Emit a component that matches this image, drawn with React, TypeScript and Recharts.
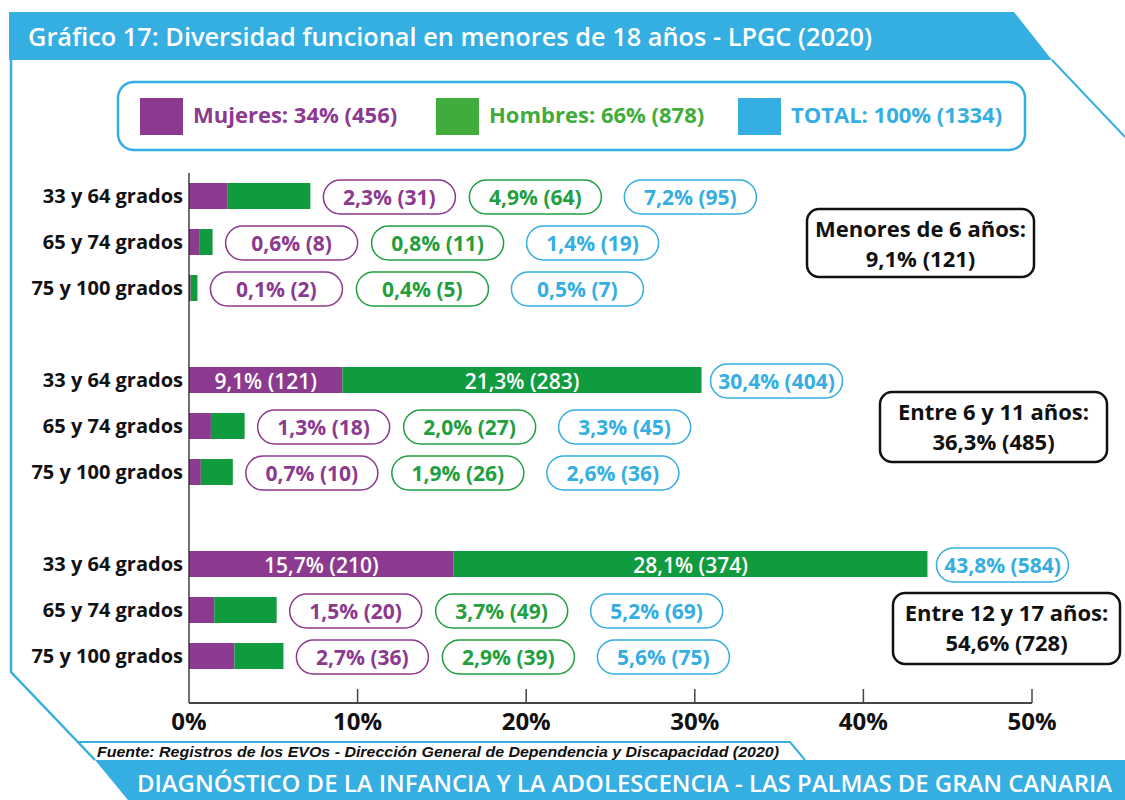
import React from "react";
import { BarChart, Bar, XAxis, YAxis, LabelList } from "recharts";

const BLUE = "#35aee2";
const PURPLE = "#8b3a8f";
const GREEN_BAR = "#119b3f";
const GREEN_PILL = "#22a040";
const GREEN_LEGEND = "#41ac3b";
const INK = "#111111";
const FONT = "'Open Sans', sans-serif";

const rowLabels = ["33 y 64 grados", "65 y 74 grados", "75 y 100 grados"];
const groupTitles = ["Menores de 6 años:", "Entre 6 y 11 años:", "Entre 12 y 17 años:"];
const groupTotals = ["9,1% (121)", "36,3% (485)", "54,6% (728)"];

const mujeresPct = [2.3, 0.6, 0.1, 9.1, 1.3, 0.7, 15.7, 1.5, 2.7];
const mujeresN = [31, 8, 2, 121, 18, 10, 210, 20, 36];
const hombresPct = [4.9, 0.8, 0.4, 21.3, 2.0, 1.9, 28.1, 3.7, 2.9];
const hombresN = [64, 11, 5, 283, 27, 26, 374, 49, 39];
const totalPct = [7.2, 1.4, 0.5, 30.4, 3.3, 2.6, 43.8, 5.2, 5.6];
const totalN = [95, 19, 7, 404, 45, 36, 584, 69, 75];

const xTicks = [0, 10, 20, 30, 40, 50];

const legendLabels = ["Mujeres: 34% (456)", "Hombres: 66% (878)", "TOTAL: 100% (1334)"];
const legendColors = [PURPLE, GREEN_LEGEND, BLUE];

const fmt = (p: number, n: number) => `${p.toFixed(1).replace(".", ",")}% (${n})`;

type Row = {
  id: string;
  label: string;
  m?: number;
  h?: number;
  mText?: string;
  hText?: string;
  tText?: string;
  inside?: boolean;
};

const data: Row[] = [];
for (let g = 0; g < 3; g++) {
  for (let r = 0; r < 3; r++) {
    const i = g * 3 + r;
    data.push({
      id: `g${g}r${r}`,
      label: rowLabels[r],
      m: mujeresPct[i],
      h: hombresPct[i],
      mText: fmt(mujeresPct[i], mujeresN[i]),
      hText: fmt(hombresPct[i], hombresN[i]),
      tText: fmt(totalPct[i], totalN[i]),
      inside: mujeresPct[i] > 8,
    });
  }
  if (g < 2) data.push({ id: `sp${g}`, label: "" });
}
const byId: Record<string, Row> = Object.fromEntries(data.map((d) => [d.id, d]));

const PILL_W = 132;
const PILL_H = 34;

function Pill({ x, cy, text, color }: { x: number; cy: number; text: string; color: string }) {
  return (
    <g>
      <rect x={x} y={cy - PILL_H / 2} width={PILL_W} height={PILL_H} rx={17} fill="#fff" stroke={color} strokeWidth={1.5} />
      <text x={x + PILL_W / 2} y={cy} textAnchor="middle" dominantBaseline="central" fill={color}
        fontFamily={FONT} fontWeight={700} fontSize={21}>
        {text}
      </text>
    </g>
  );
}

function MujeresInside(props: any) {
  const { x, y, width, height, value } = props;
  const row = byId[value];
  if (!row || !row.inside) return null;
  return (
    <text x={x + width / 2} y={y + height / 2 + 1} textAnchor="middle" dominantBaseline="central"
      fill="#fff" fontFamily={FONT} fontWeight={600} fontSize={21}>
      {row.mText}
    </text>
  );
}

function HombresLabels(props: any) {
  const { x, y, width, height, value } = props;
  const row = byId[value];
  if (!row || row.h == null) return null;
  const end = x + width;
  const cy = y + height / 2 + 1;
  if (row.inside) {
    return (
      <g>
        <text x={x + width / 2} y={cy} textAnchor="middle" dominantBaseline="central"
          fill="#fff" fontFamily={FONT} fontWeight={600} fontSize={21}>
          {row.hText}
        </text>
        <Pill x={end + 9} cy={cy} text={row.tText!} color={BLUE} />
      </g>
    );
  }
  return (
    <g>
      <Pill x={end + 13} cy={cy} text={row.mText!} color={PURPLE} />
      <Pill x={end + 159} cy={cy} text={row.hText!} color={GREEN_PILL} />
      <Pill x={end + 314} cy={cy} text={row.tText!} color={BLUE} />
    </g>
  );
}

function XTick({ x, y, payload }: any) {
  return (
    <g>
      {payload.value !== 0 && <line x1={x} x2={x} y1={y} y2={y - 14} stroke="#444" strokeWidth={1.5} />}
      <text x={x} y={y + 27} textAnchor="middle" fill={INK} fontFamily={FONT} fontWeight={700} fontSize={24}>
        {payload.value}%
      </text>
    </g>
  );
}

const groupBoxes = [
  { x: 807, y: 209, w: 227, h: 68 },
  { x: 880, y: 392, w: 227, h: 70 },
  { x: 893, y: 593, w: 227, h: 71 },
];

function Decorations() {
  return (
    <svg width={1125} height={800} style={{ position: "absolute", left: 0, top: 0 }}>
      {/* title banner */}
      <polygon points="9,12 1014,12 1052,60 9,60" fill={BLUE} />
      <line x1={1052} y1={60} x2={1125} y2={137} stroke={BLUE} strokeWidth={2} />
      <text x={28} y={46} fill="#fff" fontFamily={FONT} fontWeight={600} fontSize={25}
        textLength={844} lengthAdjust="spacingAndGlyphs">
        Gráfico 17: Diversidad funcional en menores de 18 años - LPGC (2020)
      </text>
      <polyline points="11,60 11,672 95,760" fill="none" stroke={BLUE} strokeWidth={2.5} />

      {/* legend */}
      <rect x={118} y={82} width={907} height={68} rx={16} fill="#fff" stroke={BLUE} strokeWidth={2.5} />
      {legendLabels.map((t, i) => {
        const sx = [140, 436, 738][i];
        return (
          <g key={t}>
            <rect x={sx} y={98} width={43} height={37} fill={legendColors[i]} />
            <text x={sx + 53} y={123} fill={legendColors[i]} fontFamily={FONT} fontWeight={700} fontSize={22}>
              {t}
            </text>
          </g>
        );
      })}

      {/* group boxes */}
      {groupBoxes.map((b, i) => (
        <g key={i}>
          <rect x={b.x} y={b.y} width={b.w} height={b.h} rx={12} fill="#fff" stroke={INK} strokeWidth={2.5} />
          <text x={b.x + b.w / 2} y={b.y + 28} textAnchor="middle" fill={INK} fontFamily={FONT} fontWeight={700} fontSize={22}>
            {groupTitles[i]}
          </text>
          <text x={b.x + b.w / 2} y={b.y + 58} textAnchor="middle" fill={INK} fontFamily={FONT} fontWeight={700} fontSize={22}>
            {groupTotals[i]}
          </text>
        </g>
      ))}

      {/* source + footer */}
      <polyline points="77,742 790,742 805,760" fill="none" stroke={BLUE} strokeWidth={2} />
      <text x={97} y={757} fill={INK} fontFamily="'Liberation Sans', Arial, sans-serif" fontStyle="italic" fontWeight={700}
        fontSize={14.5} textLength={682} lengthAdjust="spacingAndGlyphs">
        Fuente: Registros de los EVOs - Dirección General de Dependencia y Discapacidad (2020)
      </text>
      <polygon points="95,760 1125,760 1125,800 128,800" fill={BLUE} />
      <text x={137} y={792} fill="#fff" fontFamily={FONT} fontWeight={600} fontSize={24}
        textLength={975} lengthAdjust="spacingAndGlyphs">
        DIAGNÓSTICO DE LA INFANCIA Y LA ADOLESCENCIA - LAS PALMAS DE GRAN CANARIA
      </text>
    </svg>
  );
}

export default function App() {
  return (
    <div style={{ position: "absolute", left: 0, top: 0, width: 1125, height: 800, background: "#fff" }}>
      <Decorations />
      <div style={{ position: "absolute", left: 0, top: 0 }}>
        <BarChart
          width={1125}
          height={800}
          data={data}
          layout="vertical"
          margin={{ top: 173, right: 93, bottom: 67, left: 0 }}
          barSize={26}
        >
          <XAxis
            type="number"
            domain={[0, 50]}
            ticks={xTicks}
            height={30}
            tick={<XTick />}
            tickSize={0}
            tickMargin={0}
            tickLine={false}
            axisLine={{ stroke: "#444", strokeWidth: 2 }}
            interval={0}
          />
          <YAxis
            type="category"
            dataKey="id"
            width={189}
            padding={{ top: 0, bottom: 24 }}
            tickLine={false}
            tickSize={0}
            tickMargin={6}
            axisLine={{ stroke: "#222", strokeWidth: 1.3 }}
            tickFormatter={(v: string) => byId[v]?.label ?? ""}
            tick={{ fill: INK, fontFamily: FONT, fontWeight: 700, fontSize: 20 }}
            interval={0}
          />
          <Bar dataKey="m" stackId="s" fill={PURPLE} isAnimationActive={false}>
            <LabelList dataKey="id" content={<MujeresInside />} />
          </Bar>
          <Bar dataKey="h" stackId="s" fill={GREEN_BAR} isAnimationActive={false}>
            <LabelList dataKey="id" content={<HombresLabels />} />
          </Bar>
        </BarChart>
      </div>
    </div>
  );
}
